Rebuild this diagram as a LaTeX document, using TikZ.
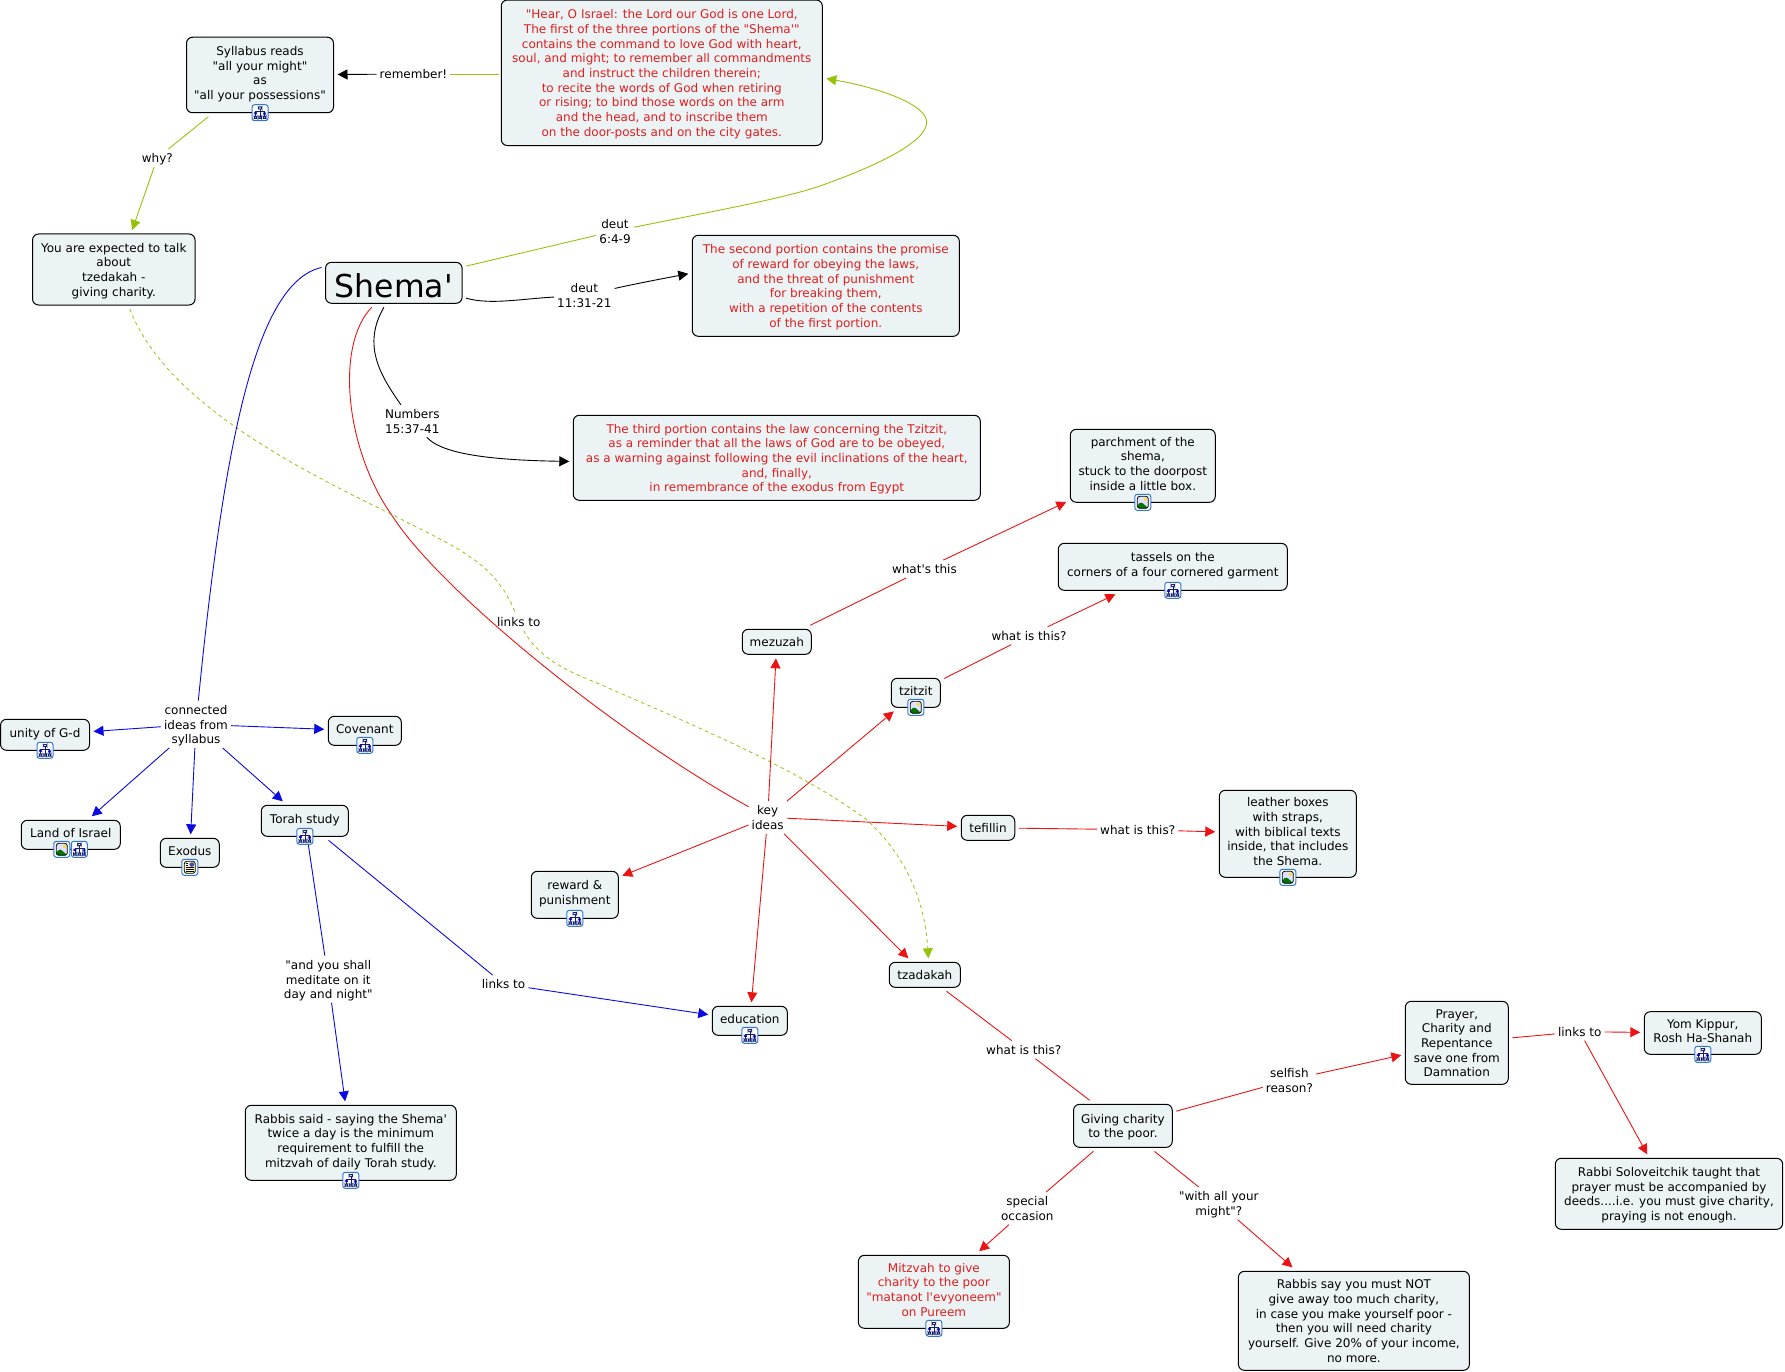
\documentclass[tikz,border=0pt]{standalone}
\usepackage{fontspec}
\setmainfont{DejaVu Sans}[Ligatures=TeXOff]
\usepackage{tikz}
\usetikzlibrary{arrows.meta}

\definecolor{boxfill}{RGB}{236,243,245}
\definecolor{textred}{RGB}{224,30,30}
\definecolor{linkred}{RGB}{235,20,20}
\definecolor{linkblue}{RGB}{10,10,225}
\definecolor{linkgreen}{RGB}{150,195,10}
\definecolor{iconblue}{RGB}{50,120,210}
\definecolor{iconnavy}{RGB}{20,30,110}

\newcommand{\lift}{\rule[-8.5pt]{0pt}{8.5pt}}
\newcommand{\drop}{\rule{0pt}{13.5pt}}

\tikzset{
  concept/.style={draw=black,fill=boxfill,rounded corners=6pt,line width=1pt,outer sep=4pt,
    align=center,inner sep=0pt,font=\fontsize{12}{14.67}\selectfont,
    execute at end node={\rule[-4pt]{0pt}{4pt}}},
  redtext/.style={concept,text=textred},
  linklabel/.style={align=center,inner xsep=3pt,inner ysep=0pt,font=\fontsize{12}{14.67}\selectfont,
    execute at end node={\rule[-4pt]{0pt}{4pt}}},
  redline/.style={draw=linkred,line width=.9pt},
  blueline/.style={draw=linkblue,line width=.9pt},
  greenline/.style={draw=linkgreen,line width=.9pt},
  blackline/.style={draw=black,line width=.9pt},
  dashline/.style={greenline,line width=.8pt,dash pattern=on 3.5pt off 3.5pt},
  iconframe/.style={draw=iconblue,fill=white,rounded corners=2.5pt,line width=1pt,
    minimum size=16pt,inner sep=0pt,outer sep=0pt,yshift=4pt},
  mapicon/.style={iconframe,path picture={
    \begin{scope}[shift={(path picture bounding box.center)},line width=.5pt]
      \draw[iconnavy] (-2,-6) rectangle (2,-3.5);
      \draw[iconnavy] (0,-3.5) -- (0,3.5) (-4.5,-1.5) -- (4.5,-1.5) (-4.5,-1.5) -- (-4.5,3.5) (4.5,-1.5) -- (4.5,3.5);
      \fill[blue!75!black] (-6,-.5) rectangle (-3,1.5) (3,0) rectangle (6,2);
      \draw[iconnavy] (-6,3.5) rectangle (-3,6) (-1.5,3.5) rectangle (1.5,6) (3,3.5) rectangle (6,6);
    \end{scope}}},
  imageicon/.style={iconframe,path picture={
    \begin{scope}[shift={(path picture bounding box.center)}]
      \fill[blue!12] (-5.5,-6) rectangle (5.5,6);
      \fill[yellow!85!orange] (2.5,-3) circle (1.8);
      \fill[green!45!black] (-5.5,6) -- (-5.5,2.5) -- (-1.5,-.5) -- (5.5,6) -- cycle;
      \draw[black,line width=.8pt] (-5.5,-6) rectangle (5.5,6);
    \end{scope}}},
  texticon/.style={iconframe,path picture={
    \begin{scope}[shift={(path picture bounding box.center)}]
      \fill[yellow!25] (-5.5,-6) rectangle (5.5,6);
      \fill[blue!45!gray] (-.5,-5) rectangle (4.5,-.5);
      \draw[black,line width=.8pt] (-5.5,-6) rectangle (5.5,6);
      \draw[black,line width=.7pt] (-4,-4) -- (-1.5,-4) (-4,-2) -- (-1.5,-2) (-4,0) -- (4,0) (-4,2) -- (4,2) (-4,4) -- (4,4);
    \end{scope}}}
}

\begin{document}
\begin{tikzpicture}[x=1pt,y=-1pt,>={Triangle[length=10pt,width=10pt]}]
  \useasboundingbox (0,0) rectangle (1785,1372);

  % concepts
  \node[concept,minimum width=147,minimum height=75.5] (syllabus) at (260,75) {\drop Syllabus reads\\"all your might"\\as\\"all your possessions"\lift};
  \node[redtext,minimum width=321,minimum height=145.5] (hear) at (661.8,72.8) {\drop "Hear, O Israel: the Lord our God is one Lord,\\The first of the three portions of the "Shema'"\\contains the command to love God with heart,\\soul, and might; to remember all commandments\\and instruct the children therein;\\to recite the words of God when retiring\\or rising; to bind those words on the arm\\and the head, and to inscribe them\\on the door-posts and on the city gates.};
  \node[concept,minimum width=162.5,minimum height=71] (expected) at (113.8,269.5) {\drop You are expected to talk\\about\\tzedakah -\\giving charity.};
  \node[concept,minimum width=136.5,minimum height=41,font=\fontsize{31.5}{36}\selectfont] (shema) at (393.8,282.8) {\rule{0pt}{33pt}Shema'};
  \node[redtext,minimum width=267,minimum height=101] (second) at (825.8,285.8) {\drop The second portion contains the promise\\of reward for obeying the laws,\\and the threat of punishment\\for breaking them,\\with a repetition of the contents\\of the first portion.};
  \node[redtext,minimum width=407,minimum height=85] (third) at (776.8,457.8) {\drop The third portion contains the law concerning the Tzitzit,\\as a reminder that all the laws of God are to be obeyed,\\as a warning against following the evil inclinations of the heart,\\and, finally,\\in remembrance of the exodus from Egypt};
  \node[concept,minimum width=145,minimum height=73] (parchment) at (1142.8,465.8) {\drop parchment of the\\shema,\\stuck to the doorpost\\inside a little box.\lift};
  \node[concept,minimum width=229,minimum height=47] (tassels) at (1172.8,566.8) {\drop tassels on the\\corners of a four cornered garment\lift};
  \node[concept,minimum width=137,minimum height=87] (leather) at (1287.8,833.8) {\drop leather boxes\\with straps,\\with biblical texts\\inside, that includes\\the Shema.\lift};
  \node[concept,minimum width=69,minimum height=25] (mezuzah) at (776.8,641.8) {\drop mezuzah};
  \node[concept,minimum width=49,minimum height=29] (tzitzit) at (915.8,692.8) {\drop tzitzit\lift};
  \node[concept,minimum width=53.5,minimum height=25] (tefillin) at (988,827.8) {\drop tefillin};
  \node[concept,minimum width=87,minimum height=47] (reward) at (574.8,894.8) {\drop reward \&\\punishment\lift};
  \node[concept,minimum width=71,minimum height=25] (tzadakah) at (924.8,974.8) {\drop tzadakah};
  \node[concept,minimum width=75,minimum height=29] (education) at (749.8,1020.8) {\drop education\lift};
  \node[concept,minimum width=89,minimum height=31] (unity) at (45,734.8) {\drop unity of G-d\lift};
  \node[concept,minimum width=73,minimum height=29] (covenant) at (364.8,730.8) {\drop Covenant\lift};
  \node[concept,minimum width=99,minimum height=29] (land) at (70.8,834.8) {\drop Land of Israel\lift};
  \node[concept,minimum width=59,minimum height=29] (exodus) at (189.8,852.8) {\drop Exodus\lift};
  \node[concept,minimum width=87,minimum height=31] (torah) at (304.8,820.8) {\drop Torah study\lift};
  \node[concept,minimum width=211,minimum height=75] (rabbissaid) at (350.8,1142.8) {\drop Rabbis said - saying the Shema'\\twice a day is the minimum\\requirement to fulfill the\\mitzvah of daily Torah study.\lift};
  \node[concept,minimum width=98.7,minimum height=43] (giving) at (1122.9,1125.8) {\drop Giving charity\\to the poor.};
  \node[redtext,minimum width=151,minimum height=73] (mitzvah) at (933.9,1291.8) {\drop Mitzvah to give\\charity to the poor\\"matanot l'evyoneem"\\on Pureem\lift};
  \node[concept,minimum width=231,minimum height=99] (rabbissay) at (1353.9,1320.8) {\drop Rabbis say you must NOT\\give away too much charity,\\in case you make yourself poor -\\then you will need charity\\yourself. Give 20\% of your income,\\no more.};
  \node[concept,minimum width=103,minimum height=83] (prayer) at (1456.8,1042.8) {\drop Prayer,\\Charity and\\Repentance\\save one from\\Damnation};
  \node[concept,minimum width=117,minimum height=42.6] (yom) at (1702.8,1033) {\drop Yom Kippur,\\Rosh Ha-Shanah\lift};
  \node[concept,minimum width=227.4,minimum height=71] (soloveitchik) at (1669,1193.8) {\drop Rabbi Soloveitchik taught that\\prayer must be accompanied by\\deeds....i.e. you must give charity,\\praying is not enough.};

  % link labels
  \node[linklabel] (remember) at (413.5,74) {\drop remember!};
  \node[linklabel] (whylabel) at (157.3,158) {\drop why?};
  \node[linklabel] (deutsix) at (615,231) {\drop deut\\6:4-9};
  \node[linklabel] (deuteleven) at (584.3,295.3) {\drop deut\\11:31-21};
  \node[linklabel] (numbers) at (412.3,421) {\drop Numbers\\15:37-41};
  \node[linklabel] (dashlinks) at (518.7,621.7) {\drop links to};
  \node[linklabel] (connected) at (196,724.3) {\drop connected\\ideas from\\syllabus};
  \node[linklabel] (meditate) at (328.3,979.3) {\drop "and you shall\\meditate on it\\day and night"};
  \node[linklabel] (bluelinks) at (503.5,984) {\drop links to};
  \node[linklabel] (keyideas) at (767.7,817.3) {\drop key\\ideas};
  \node[linklabel] (whatsthis) at (924.4,569) {\drop what's this};
  \node[linklabel] (whattzitzit) at (1029,635.7) {\drop what is this?};
  \node[linklabel] (whattefillin) at (1137.7,829.7) {\drop what is this?};
  \node[linklabel] (whattzadakah) at (1023.7,1049.7) {\drop what is this?};
  \node[linklabel] (selfish) at (1289.4,1080) {\drop selfish\\reason?};
  \node[linklabel] (special) at (1027.3,1208.3) {\drop special\\occasion};
  \node[linklabel] (withall) at (1218.8,1203.3) {\drop "with all your\\might"?};
  \node[linklabel] (redlinks) at (1579.7,1031.7) {\drop links to};

  % black and green links at the top
  \draw[greenline] ([xshift=2pt]hear.west |- remember) -- (remember);
  \draw[blackline,->] (remember) -- (syllabus);
  \draw[greenline] (syllabus) -- (whylabel);
  \draw[greenline,->] (whylabel) -- (expected.65);
  \draw[greenline] (shema.13) -- (deutsix);
  \draw[greenline,->] (deutsix) .. controls (720,210) and (785,198) .. (820,186)
    .. controls (865,170) and (925,145) .. (926.7,123)
    .. controls (928,105) and (880,88) .. (hear.-2.5);
  \draw[blackline] (shema.348) .. controls (490,305) and (520,299) .. (deuteleven);
  \draw[blackline,->] (deuteleven) .. controls (630,285) and (650,281) .. (second.175);
  \draw[blackline] (shema.248) .. controls (362,345) and (380,375) .. (numbers);
  \draw[blackline,->] (numbers) .. controls (440,452) and (480,460) .. (third.181);

  % dashed link, goes through its label
  \draw[dashline] (expected.292) .. controls (165,400) and (290,465) .. (393,515)
    .. controls (450,545) and (495,560) .. (dashlinks);
  \draw[dashline,->] (dashlinks) .. controls (540,660) and (570,672) .. (597,683)
    .. controls (700,728) and (800,770) .. (867,820)
    .. controls (905,855) and (925,900) .. (tzadakah.78);

  % blue links
  \draw[blueline] (shema.168) .. controls (258,282) and (225,430) .. (connected);
  \draw[blueline,->] (connected) -- (unity);
  \draw[blueline,->] (connected) -- (covenant);
  \draw[blueline,->] (connected) -- (land);
  \draw[blueline,->] (connected) -- (exodus);
  \draw[blueline,->] (connected) -- (torah);
  \draw[blueline] (torah) -- (meditate);
  \draw[blueline,->] (meditate) -- (rabbissaid);
  \draw[blueline] (torah) -- (bluelinks);
  \draw[blueline,->] (bluelinks) -- (education);

  % red links
  \draw[redline] (shema.228) .. controls (335,345) and (345,450) .. (393,517)
    .. controls (440,590) and (615,733) .. (keyideas);
  \draw[redline,->] (keyideas) -- (mezuzah);
  \draw[redline,->] (keyideas) -- (tzitzit);
  \draw[redline,->] (keyideas) -- (tefillin);
  \draw[redline,->] (keyideas) -- (tzadakah);
  \draw[redline,->] (keyideas) -- (education);
  \draw[redline,->] (keyideas) -- (reward);
  \draw[redline] (mezuzah) -- (whatsthis);
  \draw[redline,->] (whatsthis) -- (parchment);
  \draw[redline] (tzitzit) -- (whattzitzit);
  \draw[redline,->] (whattzitzit) -- (tassels);
  \draw[redline] (tefillin) -- (whattefillin);
  \draw[redline,->] (whattefillin) -- (leather);
  \draw[redline] (tzadakah) -- (whattzadakah);
  \draw[redline] (whattzadakah) -- (giving);
  \draw[redline] (giving) -- (selfish);
  \draw[redline,->] (selfish) -- (prayer);
  \draw[redline] (giving) -- (special);
  \draw[redline,->] (special) -- (mitzvah);
  \draw[redline] (giving) -- (withall);
  \draw[redline,->] (withall) -- (rabbissay);
  \draw[redline] (prayer) -- (redlinks);
  \draw[redline,->] (redlinks) -- (yom);
  \draw[redline,->] (redlinks) -- (soloveitchik);

  % icons sit on the lower edge of their box
  \node[mapicon] (syllabusmap) at (syllabus.south) {};
  \node[mapicon] (unitymap) at (unity.south) {};
  \node[mapicon] (covenantmap) at (covenant.south) {};
  \node[imageicon,xshift=-9pt] (landimage) at (land.south) {};
  \node[mapicon,xshift=8.5pt] (landmap) at (land.south) {};
  \node[texticon] (exodustext) at (exodus.south) {};
  \node[mapicon] (torahmap) at (torah.south) {};
  \node[mapicon] (rabbismap) at (rabbissaid.south) {};
  \node[imageicon] (parchmentimage) at (parchment.south) {};
  \node[mapicon] (tasselsmap) at (tassels.south) {};
  \node[imageicon] (tzitzitimage) at (tzitzit.south) {};
  \node[imageicon] (leatherimage) at (leather.south) {};
  \node[mapicon] (rewardmap) at (reward.south) {};
  \node[mapicon] (educationmap) at (education.south) {};
  \node[mapicon] (mitzvahmap) at (mitzvah.south) {};
  \node[mapicon] (yommap) at (yom.south) {};

\end{tikzpicture}
\end{document}
